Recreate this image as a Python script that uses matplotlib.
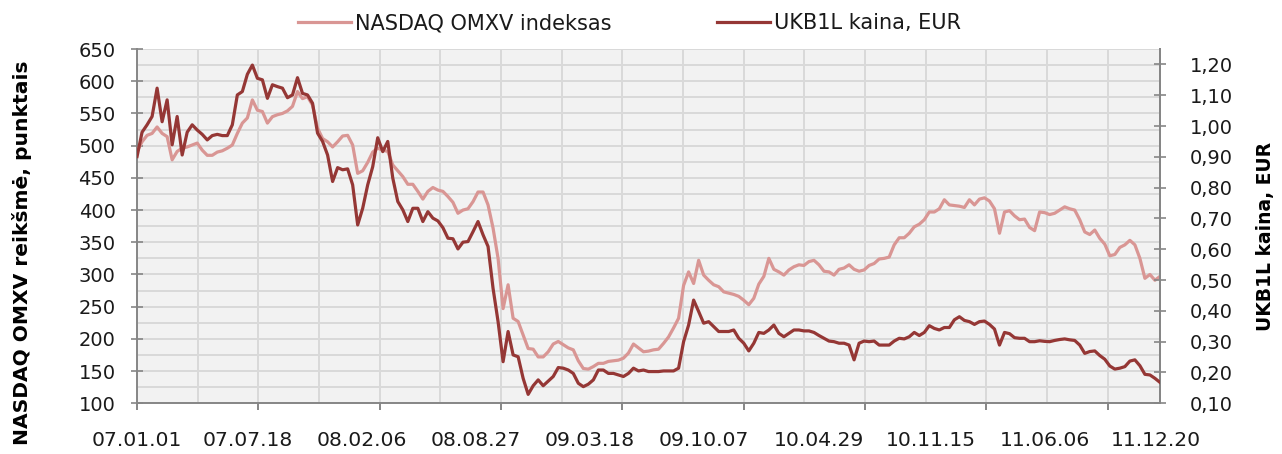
import matplotlib
matplotlib.use("Agg")
import matplotlib.pyplot as plt
import matplotlib.dates as mdates
import numpy as np
import pandas as pd

# NASDAQ OMXV index (left axis), roughly weekly readings 2007-01 .. 2011-12
omxv = [491, 506, 516, 519, 529, 519, 514, 478, 491, 496, 498, 501, 504, 493, 485,
        485, 490, 492, 496, 501, 519, 535, 543, 571, 555, 553, 535, 545, 548, 550,
        554, 561, 584, 573, 576, 563, 527, 511, 506, 498, 506, 515,
        516, 501, 457, 461, 474, 490, 496, 493, 491, 470, 461, 452, 440, 440, 429,
        417, 429, 435, 431, 429, 421, 412, 395, 400, 402, 413, 428, 428, 408, 372,
        325, 247, 284, 232, 227, 206, 185, 184, 172, 172, 180,
        192, 196, 191, 186, 183, 166, 154, 153, 157, 162, 162, 165, 166, 167, 170,
        178, 192, 186, 180, 181, 183, 184, 193, 203, 217, 232, 283, 304, 286, 322,
        299, 291, 284, 281, 273, 271, 269, 266, 260, 253, 263,
        285, 297, 325, 308, 304, 299, 307, 312, 315, 314, 320, 322, 315, 305, 304,
        299, 308, 310, 315, 308, 305, 307, 314, 317, 324, 325, 327, 346, 357, 357,
        364, 374, 378, 385, 397, 397, 402, 416, 408, 407, 406,
        404, 416, 408, 417, 419, 414, 402, 364, 397, 399, 391, 385, 386, 373, 368,
        397, 396, 393, 395, 400, 405, 402, 400, 385, 366, 362, 369, 356, 347, 329,
        331, 342, 346, 353, 346, 325, 294, 300, 291, 297]

# UKB1L share price, EUR (right axis)
ukb1l = [0.901, 0.980, 1.004, 1.031, 1.123, 1.014, 1.085, 0.939, 1.031, 0.906, 0.980,
         1.004, 0.987, 0.973, 0.955, 0.969, 0.973, 0.969, 0.969, 1.004, 1.101, 1.112,
         1.168, 1.198, 1.155, 1.150, 1.090, 1.134, 1.128, 1.123, 1.092, 1.101, 1.157,
         1.106, 1.101, 1.074, 0.977, 0.950, 0.906, 0.820, 0.865, 0.858,
         0.861, 0.809, 0.679, 0.733, 0.809, 0.868, 0.962, 0.917, 0.950, 0.831, 0.755,
         0.728, 0.690, 0.733, 0.733, 0.690, 0.722, 0.701, 0.692, 0.670, 0.636, 0.634,
         0.601, 0.623, 0.625, 0.657, 0.690, 0.647, 0.609, 0.473, 0.365, 0.235, 0.333,
         0.257, 0.251, 0.181, 0.129, 0.157, 0.176, 0.157, 0.172,
         0.187, 0.216, 0.214, 0.208, 0.197, 0.165, 0.154, 0.162, 0.176, 0.208, 0.208,
         0.197, 0.197, 0.192, 0.187, 0.197, 0.214, 0.205, 0.208, 0.203, 0.203, 0.203,
         0.205, 0.205, 0.205, 0.214, 0.300, 0.354, 0.435, 0.398, 0.360, 0.365, 0.349,
         0.333, 0.333, 0.333, 0.338, 0.311, 0.295, 0.270, 0.295,
         0.330, 0.327, 0.338, 0.354, 0.327, 0.316, 0.327, 0.338, 0.338, 0.335, 0.335,
         0.330, 0.320, 0.311, 0.302, 0.300, 0.295, 0.295, 0.289, 0.241, 0.295, 0.302,
         0.300, 0.302, 0.289, 0.289, 0.289, 0.302, 0.311, 0.309, 0.316, 0.330, 0.320,
         0.330, 0.352, 0.343, 0.338, 0.346, 0.346, 0.371, 0.381,
         0.369, 0.365, 0.356, 0.365, 0.367, 0.356, 0.341, 0.289, 0.330, 0.326, 0.313,
         0.311, 0.311, 0.300, 0.300, 0.303, 0.301, 0.300, 0.304, 0.307, 0.309, 0.306,
         0.304, 0.289, 0.262, 0.268, 0.270, 0.255, 0.243, 0.221, 0.211, 0.214, 0.219,
         0.237, 0.241, 0.222, 0.194, 0.192, 0.181, 0.168]

start_date = "2007-01-01"
end_date = "2011-12-28"
dates = pd.date_range(start_date, end_date, periods=len(omxv))

label_dates = ["2007-01-01", "2007-07-18", "2008-02-06", "2008-08-27", "2009-03-18",
               "2009-10-07", "2010-04-29", "2010-11-15", "2011-06-06", "2011-12-20"]
left_ticks = list(range(100, 651, 50))
right_ticks = [0.10, 0.20, 0.30, 0.40, 0.50, 0.60, 0.70, 0.80, 0.90, 1.00, 1.10, 1.20]

LIGHT = "#d99694"
DARK = "#953735"
AXIS = "#868686"
GRID = "#d9d9d9"
TXT = "#1a1a1a"

plt.rcParams["font.family"] = ["DejaVu Sans"]

fig = plt.figure(figsize=(12.82, 4.54), dpi=100)
ax = fig.add_axes([0.1069, 0.1117, 0.7979, 0.7803])
ax.set_facecolor("#f2f2f2")

x0 = mdates.date2num(pd.Timestamp(start_date))
x1 = mdates.date2num(pd.Timestamp(end_date))
ax.set_xlim(x0, x1)
ax.set_ylim(100, 650)

# light index line
ax.plot(dates, omxv, color=LIGHT, lw=2.3, solid_joinstyle="round", zorder=3,
        label="NASDAQ OMXV indeksas")

# horizontal grid every 25 points
for v in np.arange(125, 651, 25):
    ax.axhline(v, color=GRID, lw=1.4, zorder=1)

# vertical grid: excel-style spacing independent of the labels
step = (x1 - x0) * 60.67 / 1023
grid_x = [x0 + i * step for i in range(1, 17)]
for gx in grid_x:
    ax.axvline(gx, color=GRID, lw=1.4, zorder=1)
tick_x = [x0 + i * step for i in range(0, 17, 2)]
ax.vlines(tick_x, -0.02, 0.0, transform=ax.get_xaxis_transform(), color=AXIS,
          lw=1.4, clip_on=False, zorder=4)

ax.set_yticks(left_ticks)
ax.set_yticklabels([str(t) for t in left_ticks])
ax.tick_params(axis="y", direction="inout", length=9, width=1.2, color=AXIS,
               labelsize=14, labelcolor=TXT, pad=11)

ax.set_xticks([mdates.date2num(pd.Timestamp(d)) for d in label_dates])
ax.set_xticklabels([pd.Timestamp(d).strftime("%y.%m.%d") for d in label_dates])
ax.tick_params(axis="x", length=0, labelsize=14.6, labelcolor=TXT, pad=20)

ax.spines["top"].set_visible(False)
for s in ["left", "bottom", "right"]:
    ax.spines[s].set_color(AXIS)
    ax.spines[s].set_linewidth(1.4)

ax.set_ylabel("NASDAQ OMXV reikšmė, punktais", fontsize=14.6, fontweight="bold",
              color="black")
ax.yaxis.set_label_coords(-0.1030, 0.424)

# right axis - bank share price
ax2 = ax.twinx()
ax2.plot(dates, ukb1l, color=DARK, lw=2.3, solid_joinstyle="round", zorder=3,
         label="UKB1L kaina, EUR")
ax2.set_ylim(0.10, 1.25)
ax2.set_yticks(right_ticks)
ax2.set_yticklabels([f"{t:.2f}".replace(".", ",") for t in right_ticks])
ax2.tick_params(axis="y", direction="inout", length=9, width=1.2, color=AXIS,
                labelsize=14, labelcolor=TXT, pad=17)
for s in ["top", "left", "bottom"]:
    ax2.spines[s].set_visible(False)
ax2.spines["right"].set_color(AXIS)
ax2.spines["right"].set_linewidth(1.4)
ax2.set_ylabel("UKB1L kaina, EUR", fontsize=13.5, fontweight="bold", color="black")
ax2.yaxis.set_label_coords(1.0935, 0.472)

h1, l1 = ax.get_legend_handles_labels()
h2, l2 = ax2.get_legend_handles_labels()
fig.legend(h1 + h2, l1 + l2, loc="center", bbox_to_anchor=(0.491, 0.949), ncol=2,
           frameon=False, fontsize=15, handlelength=2.55, handletextpad=0.2,
           columnspacing=5.05, labelcolor=TXT)

fig.savefig("out.png", dpi=100)
